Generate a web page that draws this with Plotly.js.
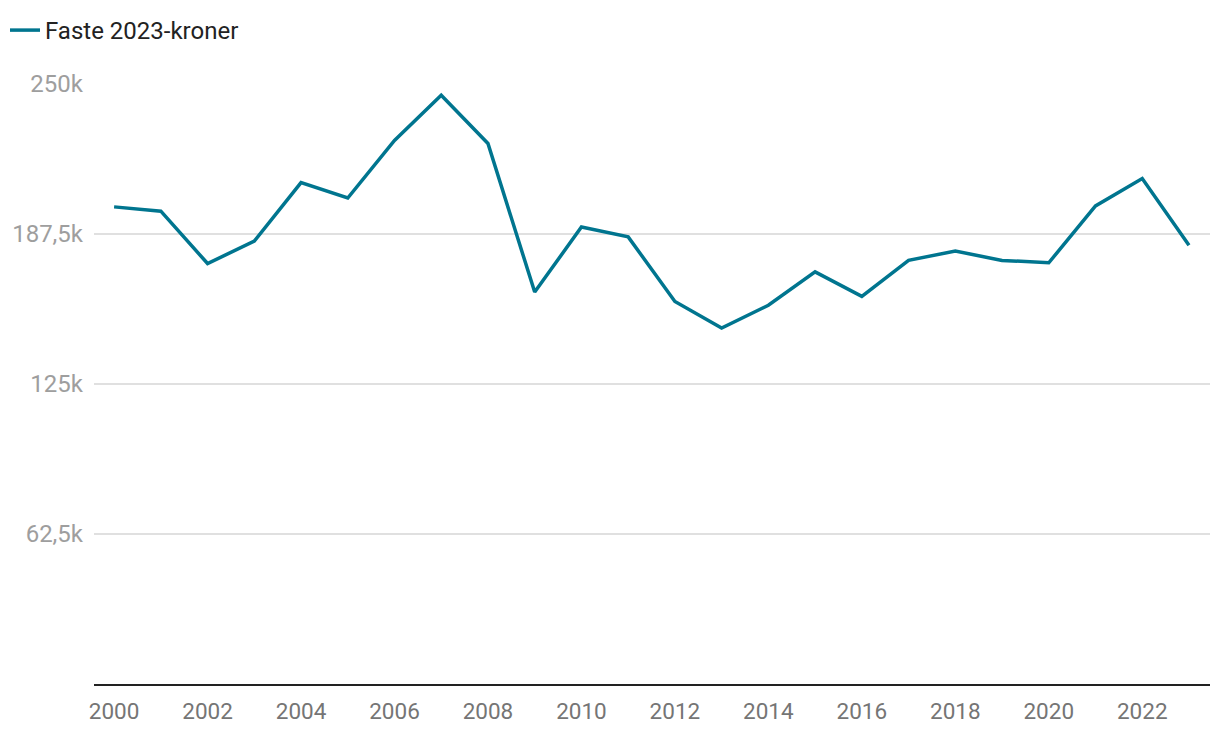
<!DOCTYPE html>
<html>
<head>
<meta charset="utf-8">
<script src="https://cdn.plot.ly/plotly-3.0.1.min.js"></script>
<style>html,body{margin:0;padding:0;background:#fff;}#chart{width:1220px;height:734px;}</style>
</head>
<body>
<div id="chart"></div>
<script>
const years = [2000,2001,2002,2003,2004,2005,2006,2007,2008,2009,2010,2011,2012,2013,2014,2015,2016,2017,2018,2019,2020,2021,2022,2023];
const values = [198.8,197.0,175.2,184.5,208.9,202.5,226.5,245.3,225.2,163.3,190.4,186.3,159.4,148.3,157.8,171.7,161.5,176.5,180.4,176.5,175.5,199.2,210.6,182.8];
const seriesName = "Faste 2023-kroner";
const yTickVals = [62.5,125,187.5,250];
const yTickText = ["62,5k","125k","187,5k","250k"];
const xTickVals = [2000,2002,2004,2006,2008,2010,2012,2014,2016,2018,2020,2022];

const trace = {
  x: years, y: values, type: 'scatter', mode: 'lines', name: seriesName,
  line: {color: '#00758f', width: 3.5}
};
const layout = {
  width: 1220, height: 734,
  margin: {l: 94, r: 10, t: 84, b: 50},
  paper_bgcolor: '#fff', plot_bgcolor: '#fff',
  font: {family: 'Roboto, sans-serif', size: 22, color: '#222'},
  showlegend: true,
  legend: {x: 5/1220, y: 1 - 8/734, xref: 'container', yref: 'container', xanchor: 'left', yanchor: 'top',
           orientation: 'h', font: {size: 24, color: '#222'}, bgcolor: 'rgba(0,0,0,0)'},
  xaxis: {
    range: [1999.57, 2023.45], tickvals: xTickVals, ticktext: xTickVals.map(String),
    showgrid: false, zeroline: false, showline: true, linecolor: '#222', linewidth: 2,
    ticks: '', tickfont: {size: 22.5, color: '#757575'}, ticklabelstandoff: 6
  },
  yaxis: {
    range: [0, 250], tickvals: yTickVals, ticktext: yTickText,
    showgrid: true, gridcolor: '#e0e0e0', gridwidth: 1.5, zeroline: false, showline: false,
    ticks: '', tickfont: {size: 24, color: '#9e9e9e'}, ticklabelstandoff: 10
  }
};
Plotly.newPlot('chart', [trace], layout, {displayModeBar: false, staticPlot: true});
</script>
</body>
</html>
